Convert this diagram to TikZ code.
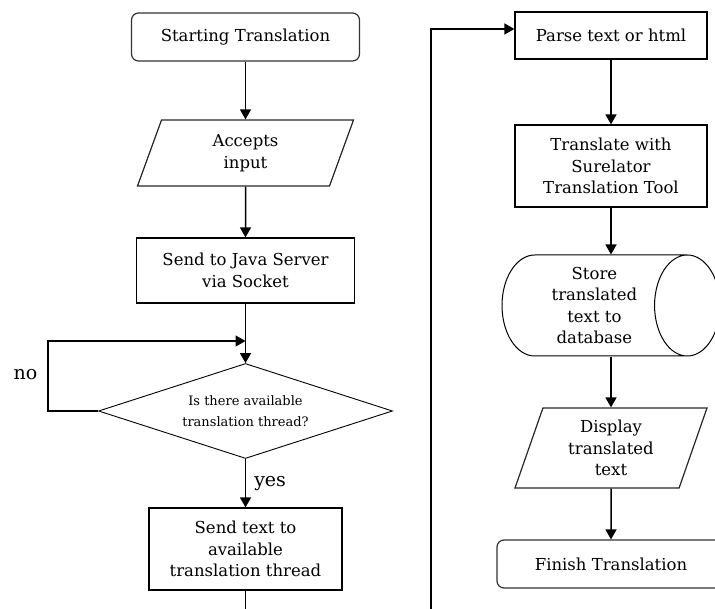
\documentclass[tikz,border=0pt]{standalone}
\usepackage{fontspec}
\setmainfont{DejaVu Serif}
\usetikzlibrary{shapes.geometric,arrows.meta}
\begin{document}
\begin{tikzpicture}[x=1pt,y=-1pt,
  base/.style={draw=black, line width=1.2pt, align=center, inner sep=0pt,
    font=\fontsize{16.5}{21.5}\selectfont},
  procbox/.style={base, rectangle},
  termbox/.style={base, rectangle, rounded corners=7pt, draw=black!80},
  iobox/.style={base, trapezium, trapezium stretches body, draw=black!85},
  decision/.style={base, diamond, aspect=3.1, line width=0.9pt,
    minimum width=294, minimum height=95, font=\fontsize{13}{21}\selectfont},
  store/.style={base, cylinder, shape aspect=0.85, line width=1pt,
    minimum width=101, minimum height=218, anchor=shape center},
  arr/.style={line width=1.5pt, -{Triangle[length=10pt,width=11pt]}},
  lbl/.style={font=\fontsize{19}{22}\selectfont, inner sep=0pt}
]
\clip (0,0) rectangle (715,609);
% left column
\node[termbox, minimum width=228, minimum height=48] (start) at (245.5,37) {Starting Translation};
\node[iobox, trapezium left angle=57, trapezium right angle=123,
      minimum width=216, minimum height=66] (accept) at (245.5,153) {Accepts\\input};
\node[procbox, minimum width=218, minimum height=65] (java) at (245.5,270.5) {Send to Java Server\\via Socket};
\node[decision] (dec) at (245.5,411) {Is there available\\translation thread?};
\node[procbox, minimum width=193, minimum height=82] (sendtxt) at (245.5,549) {Send text to\\available\\translation thread};
\node[lbl] (no) at (25.5,375) {no};
% right column
\node[procbox, minimum width=192, minimum height=47] (parse) at (611,35.5) {Parse text or html};
\node[procbox, minimum width=192, minimum height=82] (transl) at (611,166) {Translate with\\Surelator\\Translation Tool};
\node[store] (store) at (611,305.5) {Store\\translated\\text to\\database};
\node[iobox, trapezium left angle=63.4, trapezium right angle=116.6,
      minimum width=192, minimum height=80] (disp) at (611,448) {Display\\translated\\text};
\node[termbox, minimum width=228, minimum height=48] (finish) at (611,564) {Finish Translation};
% helper points
\coordinate (loopL) at (48,411);
\coordinate (loopT) at (48,341);
\coordinate (loopE) at (245.5,341);
\coordinate (b1) at (245.5,625);
\coordinate (b2) at (431,625);
\coordinate (b3) at (431,29);
% connectors
\draw[arr] (start) -- (accept);
\draw[arr] (accept) -- (java);
\draw[arr] (java) -- (dec);
\draw[arr] (dec.west) -- (loopL) -- (loopT) -- (loopE);
\draw[arr] (dec) -- node[lbl, right=8pt] (yes) {yes} (sendtxt);
\draw[arr] (sendtxt) -- (b1) -- (b2) -- (b3) -- (b3 -| parse.west);
\draw[arr] (parse) -- (transl);
\draw[arr] (transl.south) -- (transl.south |- store.north);
\draw[arr] (disp.north |- store.south) -- (disp.north);
\draw[arr] (disp) -- (finish);
\end{tikzpicture}
\end{document}
